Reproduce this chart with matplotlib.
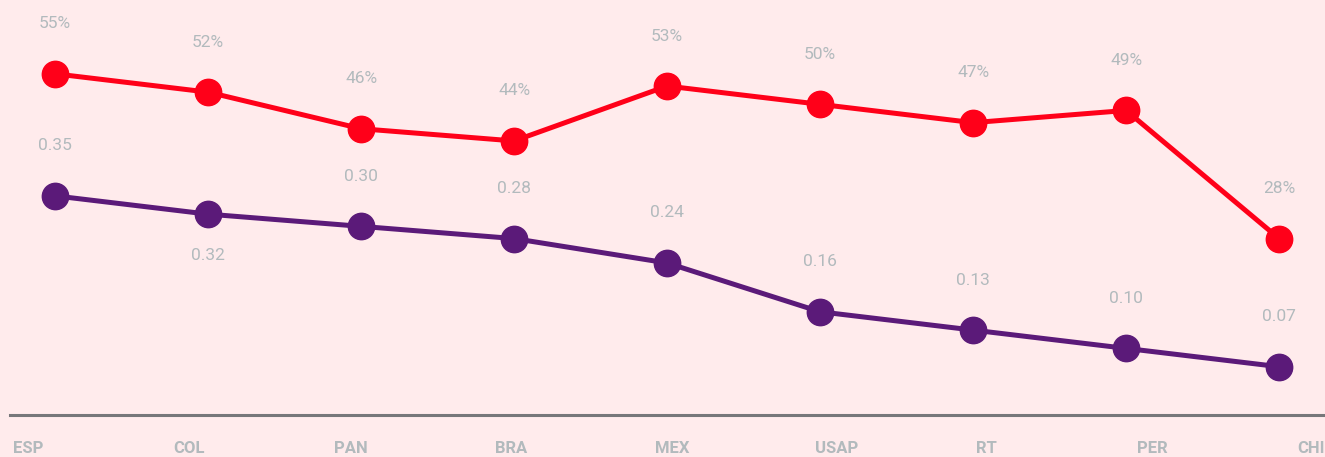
import matplotlib.pyplot as plt

countries = ['ESP', 'COL', 'PAN', 'BRA', 'MEX', 'USAP', 'RT', 'PER', 'CHI']
share = [0.55, 0.52, 0.46, 0.44, 0.53, 0.50, 0.47, 0.49, 0.28]
index = [0.35, 0.32, 0.30, 0.28, 0.24, 0.16, 0.13, 0.10, 0.07]
index_below = [False, True, False, False, False, False, False, False, False]

bg = '#ffebec'
red = '#ff0019'
purple = '#5b1a79'
label_col = '#b2babd'

plt.rcParams['font.family'] = ['Roboto', 'DejaVu Sans']

fig = plt.figure(figsize=(13.25, 4.57), dpi=100, facecolor=bg)
ax = fig.add_axes([0, 0, 1, 1])
ax.set_facecolor(bg)

x = list(range(len(countries)))
ax.plot(x, share, color=red, lw=3.6, marker='o', ms=19, zorder=3)
ax.plot(x, index, color=purple, lw=3.6, marker='o', ms=19, zorder=3)

for xi, v in zip(x, share):
    ax.annotate(f'{round(v * 100)}%', (xi, v), xytext=(0, 36), textcoords='offset points',
                ha='center', va='center', color=label_col, fontsize=12.5)
for xi, v, below in zip(x, index, index_below):
    ax.annotate(f'{v:.2f}', (xi, v), xytext=(0, -30 if below else 36), textcoords='offset points',
                ha='center', va='center', color=label_col, fontsize=12.5)

ax.axhline(-0.009, xmin=0.0075, xmax=1, color='#77777a', lw=2.2)

for i, c in enumerate(countries):
    ax.text((13 + 160.5 * i) / 1325, 0.018, c, transform=ax.transAxes, ha='left', va='center',
            color=label_col, fontsize=12, fontweight='bold')

ax.set_xlim(-0.36, 8.30)
ax.set_ylim(-0.078, 0.671)
ax.axis('off')

fig.savefig('out.png', dpi=100, facecolor=bg)
